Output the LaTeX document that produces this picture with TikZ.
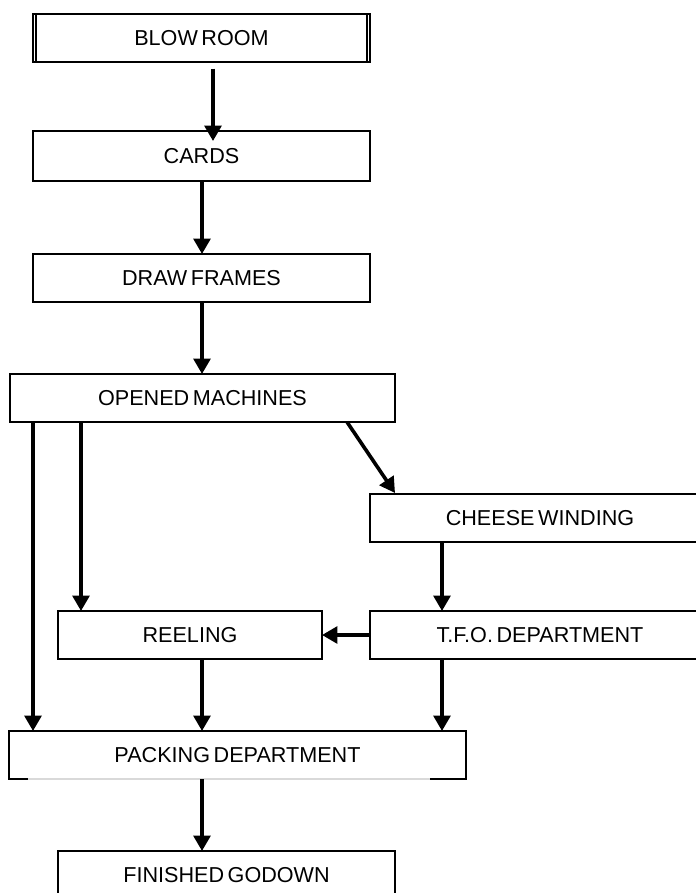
\documentclass[tikz,border=0pt]{standalone}
\usepackage{fontspec}
\setmainfont{Liberation Sans}[WordSpace=0.6]
\usetikzlibrary{arrows.meta}
\begin{document}
\begin{tikzpicture}[x=0.75pt,y=-0.75pt,
  box/.style={draw,line width=1pt,rectangle,inner sep=0pt,outer sep=0pt,
    minimum height=36pt,font=\fontsize{16.2}{19}\selectfont},
  arr/.style={line width=2.7pt,-{Triangle[length=11.5pt,width=12.5pt]}},
  lin/.style={line width=2.7pt}]
\useasboundingbox (0,0) rectangle (696,893);
\clip (0,0) rectangle (696,893);
\fill[white] (0,0) rectangle (696,893);
% boxes
\node[box,minimum width=252.75pt] (blow) at (201.5,38) {BLOW ROOM};
\node[box,minimum width=252.75pt,minimum height=37.5pt] (cards) at (201.5,156) {CARDS};
\node[box,minimum width=252.75pt] (draw) at (201.5,278) {DRAW FRAMES};
\node[box,minimum width=288.75pt] (om) at (202.5,398) {OPENED MACHINES};
\node[box,minimum width=255pt] (cw) at (540,518) {CHEESE WINDING};
\node[box,minimum width=255pt] (tfo) at (540,635) {T.F.O. DEPARTMENT};
\node[box,minimum width=198pt] (reel) at (190,635) {REELING};
\node[box,minimum width=342.75pt] (pack) at (237.5,755) {PACKING DEPARTMENT};
\node[box,minimum width=252.75pt] (fin) at (226.5,875) {FINISHED GODOWN};
% double edges of blow room
\draw[line width=0.8pt] (blow.north west) ++(3,0) -- ++(0,48);
\draw[line width=0.8pt] (blow.north east) ++(-3,0) -- ++(0,48);
% faint bottom of packing box
\draw[gray!30,line width=1.2pt] (28,779) -- (430,779);
% x positions
\coordinate (x33) at (33,0);
\coordinate (x81) at (81,0);
\coordinate (x202) at (202,0);
\coordinate (x213) at (213,0);
\coordinate (x347) at (347,0);
\coordinate (x442) at (442,0);
\coordinate (cwtip) at (395,493);
\coordinate (cardsin) at (213,141);
% connectors
\draw[arr,shorten <=5pt] (blow.south -| x213) -- (cardsin);
\draw[arr] (cards.south -| x202) -- (draw.north -| x202);
\draw[arr] (draw.south -| x202) -- (om.north -| x202);
\draw[arr] (om.south -| x33) -- (pack.north -| x33);
\draw[arr] (om.south -| x81) -- (reel.north -| x81);
\draw[arr] (om.south -| x347) -- (cwtip);
\draw[arr] (cw.south -| x442) -- (tfo.north -| x442);
\draw[arr] (tfo.west) -- (reel.east);
\draw[arr] (reel.south -| x202) -- (pack.north -| x202);
\draw[arr] (tfo.south -| x442) -- (pack.north -| x442);
\draw[arr] (pack.south -| x202) -- (fin.north -| x202);
\end{tikzpicture}
\end{document}
